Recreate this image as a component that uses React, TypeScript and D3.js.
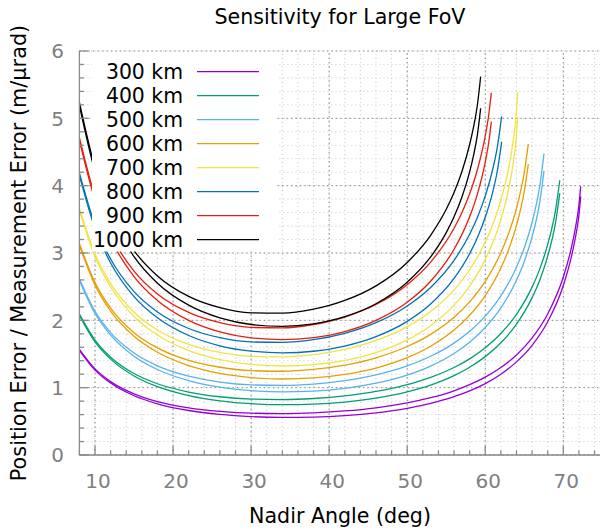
// Sensibilidad del error de posición frente al ángulo nadir, dos curvas por altitud
import { useRef, useEffect } from 'react'
import * as d3 from 'd3'

const ALTITUDES = [300, 400, 500, 600, 700, 800, 900, 1000]
const COLORS = ['#9400d3', '#009e73', '#56b4e9', '#e69f00', '#f0e442', '#0072b2', '#e51e10', '#000000']

const NADIR_300 = [8, 10, 12, 15, 18, 22, 26, 30, 34, 38, 42, 46, 50, 53, 56, 58, 60, 62, 64, 66, 68, 70, 71, 71.5, 72, 72.23]
const LOW_300 = [1.555, 1.261, 1.068, 0.880, 0.761, 0.661, 0.602, 0.570, 0.558, 0.563, 0.585, 0.627, 0.694, 0.767, 0.866, 0.952, 1.061, 1.200, 1.383, 1.629, 1.978, 2.517, 2.927, 3.200, 3.559, 3.84]
const HIGH_300 = [1.570, 1.279, 1.090, 0.907, 0.793, 0.700, 0.648, 0.621, 0.615, 0.626, 0.654, 0.701, 0.774, 0.851, 0.954, 1.044, 1.156, 1.299, 1.486, 1.738, 2.094, 2.643, 3.062, 3.341, 3.710, 3.99]

const NADIR_400 = [8, 10, 12, 15, 18, 22, 26, 30, 34, 38, 42, 46, 50, 53, 56, 58, 60, 62, 64, 66, 67, 68, 69, 69.55]
const LOW_400 = [2.074, 1.681, 1.424, 1.174, 1.015, 0.883, 0.805, 0.762, 0.747, 0.755, 0.786, 0.844, 0.938, 1.039, 1.179, 1.303, 1.461, 1.666, 1.943, 2.337, 2.604, 2.953, 3.446, 3.89]
const HIGH_400 = [2.093, 1.706, 1.453, 1.210, 1.058, 0.935, 0.865, 0.831, 0.823, 0.839, 0.878, 0.944, 1.045, 1.153, 1.300, 1.428, 1.592, 1.804, 2.089, 2.493, 2.768, 3.127, 3.634, 4.08]

const NADIR_500 = [8, 10, 12, 15, 18, 22, 26, 30, 34, 38, 42, 46, 50, 53, 56, 58, 60, 62, 64, 65, 66, 67, 67.53]
const LOW_500 = [2.593, 2.102, 1.781, 1.468, 1.270, 1.105, 1.008, 0.956, 0.937, 0.948, 0.989, 1.066, 1.187, 1.321, 1.508, 1.676, 1.893, 2.184, 2.595, 2.875, 3.241, 3.767, 4.22]
const HIGH_500 = [2.617, 2.133, 1.817, 1.514, 1.324, 1.170, 1.083, 1.041, 1.033, 1.054, 1.105, 1.191, 1.324, 1.466, 1.662, 1.837, 2.062, 2.364, 2.789, 3.079, 3.457, 4.004, 4.48]

const NADIR_600 = [8, 10, 12, 15, 18, 22, 26, 30, 34, 38, 42, 46, 50, 53, 56, 58, 60, 62, 63, 64, 65, 65.52]
const LOW_600 = [3.112, 2.523, 2.137, 1.763, 1.526, 1.328, 1.212, 1.150, 1.129, 1.144, 1.196, 1.291, 1.445, 1.615, 1.855, 2.075, 2.367, 2.776, 3.052, 3.410, 3.918, 4.32]
const HIGH_600 = [3.141, 2.560, 2.181, 1.817, 1.590, 1.405, 1.303, 1.253, 1.244, 1.271, 1.335, 1.444, 1.611, 1.792, 2.045, 2.275, 2.579, 3.005, 3.292, 3.665, 4.196, 4.62]

const NADIR_700 = [8, 10, 12, 15, 18, 22, 26, 30, 34, 38, 42, 46, 50, 53, 56, 58, 60, 61, 62, 63, 63.5, 64, 64.16]
const LOW_700 = [3.631, 2.944, 2.495, 2.058, 1.781, 1.551, 1.417, 1.345, 1.322, 1.341, 1.405, 1.522, 1.710, 1.921, 2.225, 2.509, 2.902, 3.163, 3.496, 3.953, 4.273, 4.750, 5.02]
const HIGH_700 = [3.665, 2.987, 2.546, 2.121, 1.857, 1.642, 1.523, 1.466, 1.457, 1.491, 1.569, 1.701, 1.907, 2.132, 2.452, 2.751, 3.162, 3.435, 3.784, 4.264, 4.601, 5.105, 5.39]

const NADIR_800 = [8, 10, 12, 15, 18, 22, 26, 30, 34, 38, 42, 46, 50, 53, 56, 58, 59, 60, 61, 61.5, 62.1]
const LOW_800 = [4.150, 3.366, 2.852, 2.353, 2.038, 1.775, 1.622, 1.542, 1.517, 1.541, 1.618, 1.758, 1.985, 2.242, 2.622, 2.990, 3.231, 3.531, 3.927, 4.188, 4.65]
const HIGH_800 = [4.189, 3.415, 2.910, 2.426, 2.124, 1.879, 1.743, 1.680, 1.672, 1.713, 1.807, 1.965, 2.213, 2.488, 2.890, 3.278, 3.531, 3.848, 4.266, 4.542, 5.03]

const NADIR_900 = [8, 10, 12, 15, 18, 22, 26, 30, 34, 38, 42, 46, 50, 53, 56, 57, 58, 59, 60, 60.4, 60.78]
const LOW_900 = [4.670, 3.787, 3.210, 2.649, 2.294, 1.999, 1.828, 1.739, 1.713, 1.744, 1.834, 2.000, 2.270, 2.581, 3.055, 3.273, 3.539, 3.879, 4.349, 4.608, 4.95]
const HIGH_900 = [4.714, 3.842, 3.275, 2.731, 2.391, 2.117, 1.965, 1.895, 1.888, 1.938, 2.049, 2.235, 2.530, 2.864, 3.367, 3.598, 3.880, 4.240, 4.740, 5.015, 5.38]

const NADIR_1000 = [8, 10, 12, 15, 18, 22, 26, 30, 34, 38, 42, 46, 50, 53, 55, 56, 57, 58, 58.5, 59, 59.41]
const LOW_1000 = [5.189, 4.209, 3.567, 2.945, 2.551, 2.225, 2.036, 1.938, 1.911, 1.948, 2.055, 2.247, 2.566, 2.941, 3.302, 3.537, 3.827, 4.206, 4.451, 4.762, 5.15]
const HIGH_1000 = [5.238, 4.270, 3.640, 3.036, 2.659, 2.355, 2.188, 2.112, 2.106, 2.165, 2.295, 2.512, 2.860, 3.263, 3.649, 3.898, 4.207, 4.611, 4.872, 5.206, 5.62]

const SERIES = [
  { nadir: NADIR_300, low: LOW_300, high: HIGH_300 },
  { nadir: NADIR_400, low: LOW_400, high: HIGH_400 },
  { nadir: NADIR_500, low: LOW_500, high: HIGH_500 },
  { nadir: NADIR_600, low: LOW_600, high: HIGH_600 },
  { nadir: NADIR_700, low: LOW_700, high: HIGH_700 },
  { nadir: NADIR_800, low: LOW_800, high: HIGH_800 },
  { nadir: NADIR_900, low: LOW_900, high: HIGH_900 },
  { nadir: NADIR_1000, low: LOW_1000, high: HIGH_1000 },
]

const X_TICKS = [10, 20, 30, 40, 50, 60, 70]
const Y_TICKS = [0, 1, 2, 3, 4, 5, 6]

const FONT = '"DejaVu Sans", sans-serif'

export default function App() {
  const svgRef = useRef<SVGSVGElement>(null)

  useEffect(() => {
    const width = 600
    const height = 531
    const left = 79.4
    const right = 600
    const top = 51
    const bottom = 455

    const svg = d3.select(svgRef.current).attr('width', width).attr('height', height)
    svg.selectAll('*').remove()
    svg.append('rect').attr('width', width).attr('height', height).attr('fill', '#fff')

    const x = d3.scaleLinear().domain([8, 74.7]).range([left, right])
    const y = d3.scaleLinear().domain([0, 6]).range([bottom, top])

    const xMinor = d3.range(8, 74.01, 2)
    const yMinor = d3.range(0, 6.01, 0.2)

    // rejilla punteada: menor clara, mayor más oscura
    const grid = svg.append('g')
    grid.selectAll('line.xmin').data(xMinor).join('line')
      .attr('x1', d => x(d)).attr('x2', d => x(d)).attr('y1', bottom).attr('y2', top)
      .attr('stroke', '#c8c8c8').attr('stroke-width', 1).attr('stroke-dasharray', '1,3')
    grid.selectAll('line.ymin').data(yMinor).join('line')
      .attr('x1', left).attr('x2', right).attr('y1', d => y(d)).attr('y2', d => y(d))
      .attr('stroke', '#c8c8c8').attr('stroke-width', 1).attr('stroke-dasharray', '1,3')
    grid.selectAll('line.xmaj').data(X_TICKS).join('line')
      .attr('x1', d => x(d)).attr('x2', d => x(d)).attr('y1', bottom).attr('y2', top)
      .attr('stroke', '#8a8a8a').attr('stroke-width', 1).attr('stroke-dasharray', '1.5,3')
    grid.selectAll('line.ymaj').data(Y_TICKS).join('line')
      .attr('x1', left).attr('x2', right).attr('y1', d => y(d)).attr('y2', d => y(d))
      .attr('stroke', '#8a8a8a').attr('stroke-width', 1).attr('stroke-dasharray', '1.5,3')

    // curvas
    const line = d3.line<[number, number]>()
      .x(d => x(d[0])).y(d => y(d[1]))
      .curve(d3.curveMonotoneX)
    const curves = svg.append('g')
    SERIES.forEach((s, i) => {
      ;[s.low, s.high].forEach(vals => {
        const pts = s.nadir.map((n, j) => [n, vals[j]] as [number, number])
        curves.append('path')
          .attr('d', line(pts))
          .attr('fill', 'none')
          .attr('stroke', COLORS[i])
          .attr('stroke-width', 1.3)
      })
    })

    // leyenda opaca
    svg.append('rect')
      .attr('x', 92).attr('y', 52.5).attr('width', 185).attr('height', 199)
      .attr('fill', '#fff')
    const key = svg.append('g')
    ALTITUDES.forEach((alt, i) => {
      const ky = 71.7 + i * 24
      key.append('text')
        .attr('x', 183).attr('y', ky + 7.2)
        .attr('text-anchor', 'end')
        .attr('font-family', FONT).attr('font-size', '20.4px').attr('fill', '#000')
        .text(`${alt} km`)
      key.append('line')
        .attr('x1', 197).attr('x2', 259).attr('y1', ky).attr('y2', ky)
        .attr('stroke', COLORS[i]).attr('stroke-width', 1.3)
    })

    // ejes y marcas hacia dentro
    const axis = svg.append('g').attr('stroke', '#8a8a8a').attr('stroke-width', 1.3)
    axis.append('line').attr('x1', left).attr('x2', right).attr('y1', bottom).attr('y2', bottom)
    axis.append('line').attr('x1', left).attr('x2', left).attr('y1', bottom).attr('y2', top)
    axis.selectAll('line.xt').data(xMinor).join('line')
      .attr('x1', d => x(d)).attr('x2', d => x(d))
      .attr('y1', bottom).attr('y2', d => bottom - (d % 10 === 0 ? 9 : 4.5))
    axis.selectAll('line.yt').data(yMinor).join('line')
      .attr('y1', d => y(d)).attr('y2', d => y(d))
      .attr('x1', left).attr('x2', d => left + (Math.abs(d - Math.round(d)) < 1e-6 ? 9 : 4.5))

    svg.append('g').selectAll('text').data(X_TICKS).join('text')
      .attr('x', d => x(d) + 3).attr('y', 488)
      .attr('text-anchor', 'middle')
      .attr('font-family', FONT).attr('font-size', '20px').attr('fill', '#808080')
      .text(d => d)
    svg.append('g').selectAll('text').data(Y_TICKS).join('text')
      .attr('x', 64).attr('y', d => y(d) + 7.2)
      .attr('text-anchor', 'end')
      .attr('font-family', FONT).attr('font-size', '20px').attr('fill', '#808080')
      .text(d => d)

    // títulos
    svg.append('text')
      .attr('x', 340).attr('y', 24).attr('text-anchor', 'middle')
      .attr('font-family', FONT).attr('font-size', '20.6px').attr('fill', '#000')
      .text('Sensitivity for Large FoV')
    svg.append('text')
      .attr('x', 340).attr('y', 523).attr('text-anchor', 'middle')
      .attr('font-family', FONT).attr('font-size', '20.6px').attr('fill', '#000')
      .text('Nadir Angle (deg)')
    svg.append('text')
      .attr('transform', `translate(26, ${(top + bottom) / 2}) rotate(-90)`)
      .attr('text-anchor', 'middle')
      .attr('font-family', FONT).attr('font-size', '20.8px').attr('fill', '#000')
      .text('Position Error / Measurement Error (m/µrad)')
  }, [])

  return <svg ref={svgRef} style={{ position: 'absolute', left: 0, top: 0, display: 'block' }} />
}
